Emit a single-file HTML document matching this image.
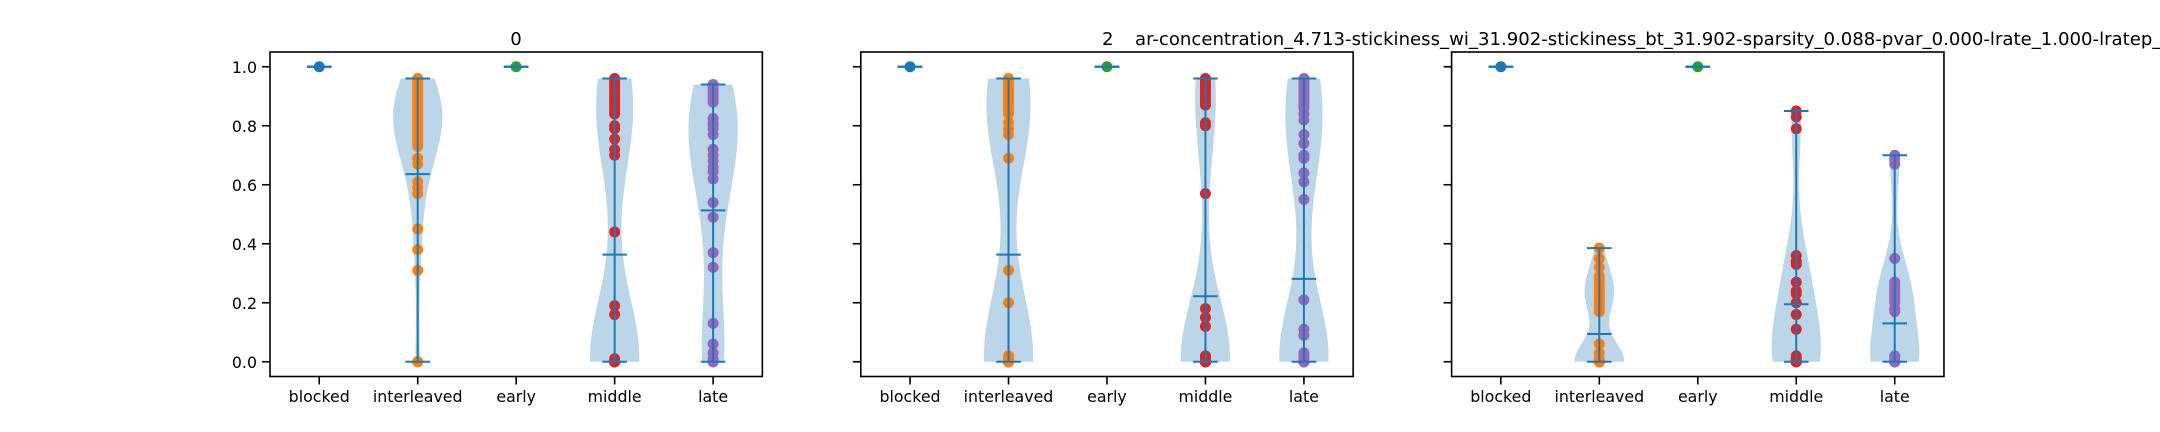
<!DOCTYPE html>
<html><head><meta charset="utf-8"><style>
html,body{margin:0;padding:0;background:#fff;width:2160px;height:432px;overflow:hidden}
svg{display:block}
text{font-family:"DejaVu Sans","Liberation Sans",sans-serif;font-size:15.8px;fill:#000}
text.title{font-size:18.1px}
</style></head><body>
<svg id="fig" width="2160" height="432" viewBox="0 0 2160 432"></svg>
<script>
const categories = ["blocked","interleaved","early","middle","late"];
const panelTitles = ["0","2","1"];
const yTicks = [0.0,0.2,0.4,0.6,0.8,1.0];
const yTickLabels = ["0.0","0.2","0.4","0.6","0.8","1.0"];
const colors = ["#1f77b4","#ff7f0e","#2ca02c","#d62728","#9467bd"];

const p0Blocked = [1.0];
const p0Interleaved = [0.96,0.95,0.94,0.93,0.92,0.91,0.90,0.89,0.88,0.87,0.86,0.85,0.84,0.83,0.82,0.81,0.80,0.79,0.78,0.77,0.76,0.75,0.74,0.73,0.69,0.67,0.61,0.59,0.57,0.45,0.38,0.31,0.0,0.0];
const p0Early = [1.0];
const p0Middle = [0.96,0.95,0.94,0.93,0.92,0.91,0.90,0.89,0.88,0.87,0.86,0.85,0.84,0.80,0.79,0.755,0.72,0.70,0.44,0.19,0.16,0.01,0,0,0,0,0,0,0,0,0,0,0,0,0,0,0,0,0,0,0,0];
const p0Late = [0.94,0.93,0.92,0.91,0.90,0.89,0.88,0.825,0.81,0.80,0.79,0.77,0.72,0.70,0.68,0.66,0.645,0.62,0.54,0.49,0.37,0.32,0.13,0.06,0.03,0.01,0.0,0.0,0.0];
const p0Centers = [1.0,0.636,1.0,0.363,0.513];

const p1Blocked = [1.0];
const p1Interleaved = [0.96,0.95,0.94,0.93,0.92,0.91,0.90,0.89,0.88,0.87,0.86,0.85,0.84,0.81,0.79,0.77,0.69,0.31,0.20,0.02,0.01,0,0,0,0,0,0,0,0,0,0,0,0,0,0,0];
const p1Early = [1.0];
const p1Middle = [0.96,0.95,0.94,0.93,0.92,0.91,0.90,0.89,0.88,0.87,0.81,0.80,0.57,0.18,0.15,0.12,0.02,0.01,0,0,0,0,0,0,0,0,0,0,0,0,0,0,0,0,0,0,0,0,0,0,0,0];
const p1Late = [0.96,0.95,0.94,0.93,0.92,0.91,0.90,0.89,0.88,0.87,0.86,0.84,0.82,0.77,0.74,0.70,0.69,0.64,0.61,0.55,0.21,0.11,0.09,0.03,0.02,0.01,0,0,0,0,0,0,0,0,0,0,0,0,0,0,0,0,0];
const p1Centers = [1.0,0.363,1.0,0.222,0.281];

const p2Blocked = [1.0];
const p2Interleaved = [0.385,0.35,0.32,0.29,0.28,0.27,0.26,0.25,0.24,0.23,0.22,0.21,0.20,0.19,0.18,0.17,0.06,0.03,0.01,0,0,0,0,0,0,0,0,0,0,0,0,0,0,0,0,0];
const p2Early = [1.0];
const p2Middle = [0.85,0.83,0.79,0.36,0.34,0.33,0.27,0.24,0.23,0.20,0.16,0.11,0.02,0.01,0,0,0,0,0,0,0,0,0,0];
const p2Late = [0.70,0.685,0.67,0.35,0.27,0.26,0.25,0.24,0.23,0.22,0.21,0.20,0.18,0.17,0.02,0.01,0,0,0,0,0,0,0,0,0,0,0,0];
const p2Centers = [1.0,0.094,1.0,0.195,0.130];

const panels = [
  {data:[p0Blocked,p0Interleaved,p0Early,p0Middle,p0Late], centers:p0Centers},
  {data:[p1Blocked,p1Interleaved,p1Early,p1Middle,p1Late], centers:p1Centers},
  {data:[p2Blocked,p2Interleaved,p2Early,p2Middle,p2Late], centers:p2Centers}
];

const NS = "http://www.w3.org/2000/svg";
const svg = document.getElementById("fig");
function mk(tag, attrs, parent){
  const e = document.createElementNS(NS, tag);
  for (const k in attrs) e.setAttribute(k, attrs[k]);
  (parent||svg).appendChild(e);
  return e;
}
const axLeft = [270, 860.8, 1451.6], axW = 492.35, axTop = 52, axH = 324.5;
const yMin = -0.05, yMax = 1.05;

panels.forEach((p, pi) => {
  const x0 = axLeft[pi];
  const xs = v => x0 + (v - 0.5) / 5 * axW;
  const ys = v => axTop + (yMax - v) / (yMax - yMin) * axH;
  const unit = axW / 5;
  const g = mk("g", {});
  
  

  p.data.forEach((vals, ci) => {
    const cx = xs(ci + 1);
    const mn = Math.min(...vals), mx = Math.max(...vals);
    if (vals.length > 1 && mx > mn) {
      const n = vals.length;
      const mean = vals.reduce((a,b)=>a+b,0)/n;
      const sd = Math.sqrt(vals.reduce((a,b)=>a+(b-mean)*(b-mean),0)/(n-1));
      const bw = sd * Math.pow(n, -0.2);
      const pts = [];
      for (let i = 0; i < 100; i++) {
        const y = mn + (mx - mn) * i / 99;
        let d = 0;
        vals.forEach(v => { const z = (y - v) / bw; d += Math.exp(-0.5*z*z); });
        pts.push([y, d]);
      }
      const dmax = Math.max(...pts.map(q => q[1]));
      const half = 0.25 * unit;
      let path = "";
      pts.forEach((q, i) => { path += (i ? "L" : "M") + (cx - q[1]/dmax*half).toFixed(2) + "," + ys(q[0]).toFixed(2); });
      for (let i = pts.length - 1; i >= 0; i--) path += "L" + (cx + pts[i][1]/dmax*half).toFixed(2) + "," + ys(pts[i][0]).toFixed(2);
      const b = mk("path", {d: path + "Z", fill: "#1f77b4", "fill-opacity": 0.3}, g);
      
      
    }
    vals.forEach(v => {
      const c = mk("circle", {cx: cx, cy: ys(v), r: 5.5, fill: colors[ci]}, g);
      
      
    });
    const capHalf = 0.125 * unit;
    const vl = mk("line", {x1: cx, x2: cx, y1: ys(mn), y2: ys(mx), stroke: "#1f77b4", "stroke-width": 2}, g);
    
    
    [mn, mx, p.centers[ci]].forEach((v, k) => {
      const l = mk("line", {x1: cx - capHalf, x2: cx + capHalf, y1: ys(v), y2: ys(v), stroke: "#1f77b4", "stroke-width": 2}, g);
      
      
    });
  });

  const fr = mk("rect", {x: x0, y: axTop, width: axW, height: axH, fill: "none", stroke: "#000", "stroke-width": 1.6}, g);
  
  
  yTicks.forEach((t, i) => {
    const tk = mk("line", {x1: x0 - 8, x2: x0, y1: ys(t), y2: ys(t), stroke: "#000", "stroke-width": 1.6}, g);
    
    
    if (pi === 0) {
      const tl = mk("text", {x: x0 - 13, y: ys(t) + 6, "text-anchor": "end"}, g);
      tl.textContent = yTickLabels[i];
      
      
    }
  });
  categories.forEach((c, i) => {
    const x = xs(i + 1);
    const tk = mk("line", {x1: x, x2: x, y1: axTop + axH, y2: axTop + axH + 8, stroke: "#000", "stroke-width": 1.6}, g);
    
    
    const tl = mk("text", {x: x, y: 402, "text-anchor": "middle"}, g);
    tl.textContent = c;
    
    
  });
});

const t0 = mk("text", {x: 516, y: 45, "text-anchor": "middle", "class": "title"});
t0.textContent = "0";


const t1a = mk("text", {x: 1102, y: 45, "class": "title"});
t1a.textContent = "2";


const t1b = mk("text", {x: 1135, y: 45, "class": "title"});
t1b.textContent = "ar-concentration_4.713-stickiness_wi_31.902-stickiness_bt_31.902-sparsity_0.088-pvar_0.000-lrate_1.000-lratep_1.000";


</script>
</body></html>
